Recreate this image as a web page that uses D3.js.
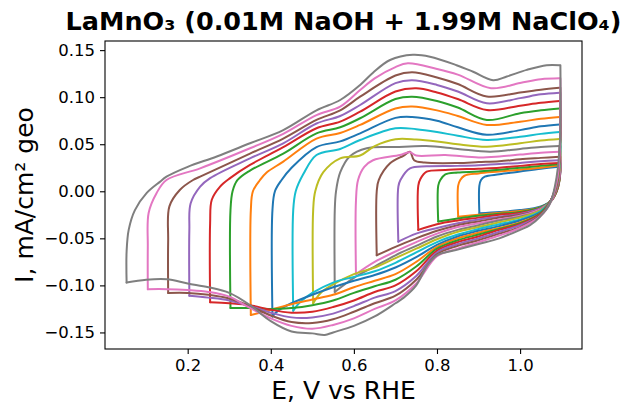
<!DOCTYPE html>
<html><head><meta charset="utf-8">
<script src="https://cdn.jsdelivr.net/npm/d3@7"></script>
<style>body{margin:0;background:#fff}svg{display:block}</style>
</head><body>
<svg id="chart" width="625" height="407"></svg>
<script>
// Lower vertex potentials (V vs RHE), in plotting order
const vertexE = [0.90,0.85,0.80,0.75,0.70,0.65,0.60,0.55,0.50,0.45,0.40,0.35,0.30,0.25,0.20,0.15,0.10,0.05];
const xTicks = [0.2,0.4,0.6,0.8,1.0];
const yTicks = [-0.15,-0.10,-0.05,0.00,0.05,0.10,0.15];
const titleText = "LaMnO₃ (0.01M NaOH + 1.99M NaClO₄)";
const xLabel = "E, V vs RHE";
const yLabel = "I, mA/cm² geo";

// Anodic (forward) branches: [E, I]
const up090 = [[0.902,-0.0234],[0.902,0.006],[0.906,0.012],[0.915,0.0155],[0.95,0.018],[1.0,0.021],[1.05,0.024],[1.095,0.026]];
const up085 = [[0.851,-0.027],[0.851,0.006],[0.856,0.012],[0.866,0.0165],[0.9,0.019],[0.95,0.021],[1.0,0.023],[1.05,0.025],[1.095,0.0276]];
const up080 = [[0.803,-0.032],[0.803,0.006],[0.808,0.012],[0.82,0.018],[0.85,0.020],[0.9,0.021],[0.95,0.023],[1.0,0.025],[1.05,0.027],[1.095,0.029]];
const up075 = [[0.755,-0.041],[0.755,0.006],[0.76,0.013],[0.775,0.0208],[0.82,0.0226],[0.9,0.024],[0.95,0.025],[1.0,0.027],[1.05,0.029],[1.095,0.030]];
const up070 = [[0.707,-0.0535],[0.707,0.005],[0.712,0.012],[0.735,0.0244],[0.775,0.0266],[0.85,0.027],[0.9,0.0276],[0.95,0.029],[1.0,0.030],[1.05,0.032],[1.095,0.033]];
const up065 = [[0.655,-0.068],[0.655,0.0],[0.66,0.012],[0.687,0.0297],[0.72,0.038],[0.735,0.042],[0.745,0.033],[0.77,0.0305],[0.85,0.030],[0.9,0.031],[0.95,0.032],[1.0,0.034],[1.05,0.0355],[1.095,0.0368]];
const up060 = [[0.605,-0.088],[0.605,-0.01],[0.61,0.012],[0.625,0.026],[0.646,0.033],[0.711,0.0386],[0.735,0.0415],[0.75,0.038],[0.82,0.0386],[0.9,0.036],[0.95,0.037],[1.0,0.039],[1.05,0.041],[1.095,0.042]];
const up055 = [[0.554,-0.107],[0.554,-0.02],[0.557,0.0],[0.567,0.02],[0.59,0.037],[0.631,0.0457],[0.7,0.047],[0.774,0.048],[0.85,0.045],[0.928,0.042],[1.0,0.045],[1.05,0.047],[1.095,0.048]];
const up050 = [[0.502,-0.119],[0.502,-0.02],[0.507,0.0],[0.526,0.02],[0.567,0.035],[0.615,0.038],[0.65,0.048],[0.7,0.0553],[0.75,0.055],[0.8,0.053],[0.85,0.050],[0.92,0.0474],[1.0,0.051],[1.05,0.054],[1.095,0.0556]];
const up045 = [[0.454,-0.127],[0.454,-0.02],[0.46,0.0],[0.478,0.018],[0.51,0.0386],[0.567,0.045],[0.615,0.0545],[0.7,0.067],[0.75,0.066],[0.8,0.063],[0.85,0.059],[0.92,0.0545],[1.0,0.058],[1.05,0.061],[1.095,0.063]];
const up040 = [[0.404,-0.133],[0.404,-0.02],[0.41,0.0],[0.426,0.012],[0.45,0.025],[0.51,0.047],[0.567,0.053],[0.615,0.0616],[0.7,0.078],[0.74,0.079],[0.8,0.075],[0.85,0.068],[0.92,0.060],[1.0,0.065],[1.05,0.069],[1.095,0.071]];
const up035 = [[0.352,-0.1315],[0.352,-0.02],[0.357,0.0],[0.374,0.012],[0.39,0.02],[0.43,0.0315],[0.51,0.056],[0.567,0.062],[0.615,0.0705],[0.7,0.088],[0.74,0.090],[0.8,0.086],[0.85,0.080],[0.92,0.0705],[1.0,0.074],[1.05,0.077],[1.095,0.079]];
const up030 = [[0.303,-0.124],[0.303,-0.02],[0.308,0.0],[0.32,0.012],[0.35,0.022],[0.43,0.040],[0.51,0.0616],[0.567,0.068],[0.615,0.0776],[0.7,0.098],[0.74,0.1005],[0.8,0.096],[0.85,0.089],[0.92,0.0758],[1.0,0.083],[1.05,0.086],[1.095,0.088]];
const up025 = [[0.254,-0.118],[0.254,-0.034],[0.258,-0.009],[0.278,0.005],[0.302,0.014],[0.35,0.028],[0.43,0.0468],[0.51,0.067],[0.567,0.074],[0.615,0.0846],[0.7,0.106],[0.75,0.1095],[0.8,0.105],[0.85,0.098],[0.92,0.0864],[1.0,0.091],[1.05,0.094],[1.095,0.096]];
const up020 = [[0.204,-0.111],[0.204,-0.041],[0.207,-0.013],[0.23,0.005],[0.254,0.014],[0.35,0.035],[0.43,0.051],[0.51,0.072],[0.567,0.080],[0.615,0.0917],[0.7,0.115],[0.74,0.118],[0.8,0.113],[0.85,0.106],[0.92,0.0935],[1.0,0.099],[1.05,0.103],[1.095,0.1047]];
const up015 = [[0.153,-0.108],[0.153,-0.052],[0.156,-0.016],[0.181,0.0014],[0.213,0.012],[0.23,0.0155],[0.35,0.040],[0.43,0.056],[0.51,0.0758],[0.567,0.086],[0.615,0.1005],[0.7,0.123],[0.74,0.1265],[0.8,0.121],[0.85,0.114],[0.92,0.1007],[1.0,0.105],[1.05,0.108],[1.095,0.110]];
const up010 = [[0.104,-0.104],[0.104,-0.059],[0.106,-0.023],[0.125,-0.002],[0.149,0.012],[0.23,0.0244],[0.35,0.0457],[0.43,0.061],[0.51,0.081],[0.567,0.09],[0.615,0.1076],[0.65,0.12],[0.7,0.132],[0.73,0.136],[0.8,0.130],[0.85,0.124],[0.93,0.1095],[1.0,0.115],[1.05,0.119],[1.095,0.120]];
const up005 = [[0.053,-0.097],[0.053,-0.064],[0.058,-0.041],[0.073,-0.020],[0.101,-0.002],[0.133,0.010],[0.149,0.0155],[0.2,0.026],[0.27,0.037],[0.35,0.051],[0.43,0.065],[0.51,0.086],[0.567,0.097],[0.615,0.113],[0.646,0.126],[0.687,0.1395],[0.742,0.145],[0.783,0.143],[0.847,0.134],[0.887,0.127],[0.935,0.118],[0.968,0.122],[1.016,0.129],[1.064,0.134],[1.095,0.134]];

// Cathodic (reverse) branches: [E, I]
const dn090 = [[1.097,0.026],[1.095,0.012],[1.088,0.0],[1.075,-0.010],[1.05,-0.016],[1.0,-0.020],[0.95,-0.022],[0.902,-0.0234]];
const dn085 = [[1.097,0.0276],[1.095,0.012],[1.088,0.0],[1.075,-0.010],[1.05,-0.017],[1.0,-0.021],[0.95,-0.023],[0.9,-0.025],[0.851,-0.027]];
const dn080 = [[1.097,0.029],[1.095,0.013],[1.088,0.0],[1.075,-0.010],[1.05,-0.017],[1.0,-0.022],[0.95,-0.024],[0.9,-0.026],[0.85,-0.029],[0.803,-0.032]];
const dn075 = [[1.097,0.030],[1.095,0.014],[1.088,0.001],[1.075,-0.010],[1.05,-0.018],[1.0,-0.023],[0.95,-0.025],[0.9,-0.028],[0.85,-0.031],[0.8,-0.035],[0.755,-0.041]];
const dn070 = [[1.097,0.033],[1.096,0.016],[1.088,0.002],[1.075,-0.010],[1.05,-0.018],[1.0,-0.024],[0.95,-0.027],[0.9,-0.030],[0.85,-0.034],[0.8,-0.039],[0.75,-0.045],[0.707,-0.0535]];
const dn065 = [[1.097,0.0368],[1.096,0.018],[1.088,0.003],[1.075,-0.010],[1.05,-0.019],[1.0,-0.025],[0.95,-0.028],[0.9,-0.032],[0.85,-0.036],[0.8,-0.042],[0.75,-0.050],[0.7,-0.059],[0.655,-0.068]];
const dn060 = [[1.097,0.042],[1.096,0.02],[1.088,0.004],[1.075,-0.010],[1.05,-0.019],[1.0,-0.026],[0.95,-0.030],[0.9,-0.034],[0.85,-0.038],[0.8,-0.045],[0.75,-0.054],[0.7,-0.064],[0.65,-0.075],[0.605,-0.088]];
const dn055 = [[1.097,0.048],[1.096,0.025],[1.089,0.006],[1.075,-0.009],[1.05,-0.020],[1.0,-0.027],[0.95,-0.031],[0.9,-0.036],[0.85,-0.041],[0.8,-0.048],[0.75,-0.058],[0.7,-0.068],[0.65,-0.080],[0.6,-0.092],[0.554,-0.107]];
const dn050 = [[1.097,0.0556],[1.096,0.03],[1.089,0.008],[1.075,-0.009],[1.05,-0.020],[1.0,-0.028],[0.95,-0.033],[0.9,-0.038],[0.85,-0.043],[0.8,-0.051],[0.75,-0.061],[0.7,-0.071],[0.65,-0.081],[0.6,-0.088],[0.55,-0.099],[0.52,-0.108],[0.502,-0.119]];
const dn045 = [[1.097,0.063],[1.096,0.035],[1.089,0.009],[1.075,-0.009],[1.05,-0.021],[1.0,-0.030],[0.95,-0.035],[0.9,-0.040],[0.85,-0.046],[0.8,-0.054],[0.75,-0.065],[0.7,-0.076],[0.65,-0.085],[0.6,-0.091],[0.55,-0.097],[0.5,-0.108],[0.47,-0.118],[0.454,-0.127]];
const dn040 = [[1.097,0.071],[1.096,0.04],[1.09,0.010],[1.075,-0.009],[1.05,-0.022],[1.0,-0.031],[0.95,-0.037],[0.9,-0.042],[0.85,-0.048],[0.8,-0.057],[0.75,-0.070],[0.7,-0.081],[0.65,-0.089],[0.6,-0.095],[0.55,-0.102],[0.5,-0.110],[0.45,-0.119],[0.42,-0.126],[0.404,-0.133]];
const dn035 = [[1.097,0.079],[1.096,0.045],[1.09,0.011],[1.075,-0.009],[1.05,-0.023],[1.0,-0.033],[0.95,-0.039],[0.9,-0.044],[0.85,-0.050],[0.8,-0.059],[0.75,-0.075],[0.7,-0.088],[0.65,-0.095],[0.6,-0.102],[0.55,-0.110],[0.5,-0.115],[0.45,-0.120],[0.4,-0.126],[0.352,-0.1315]];
const dn030 = [[1.097,0.088],[1.096,0.05],[1.09,0.012],[1.075,-0.009],[1.05,-0.023],[1.0,-0.034],[0.95,-0.040],[0.9,-0.046],[0.85,-0.052],[0.8,-0.061],[0.75,-0.080],[0.7,-0.094],[0.65,-0.101],[0.6,-0.108],[0.55,-0.116],[0.5,-0.121],[0.45,-0.124],[0.4,-0.125],[0.35,-0.124],[0.303,-0.124]];
const dn025 = [[1.097,0.096],[1.096,0.05],[1.09,0.013],[1.074,-0.010],[1.05,-0.024],[1.0,-0.035],[0.95,-0.041],[0.9,-0.048],[0.85,-0.054],[0.8,-0.063],[0.75,-0.085],[0.7,-0.100],[0.65,-0.107],[0.6,-0.116],[0.55,-0.123],[0.5,-0.128],[0.45,-0.129],[0.4,-0.126],[0.35,-0.121],[0.3,-0.119],[0.254,-0.118]];
const dn020 = [[1.097,0.1047],[1.096,0.05],[1.09,0.014],[1.074,-0.010],[1.05,-0.025],[1.0,-0.036],[0.95,-0.043],[0.9,-0.050],[0.85,-0.056],[0.8,-0.065],[0.75,-0.090],[0.7,-0.106],[0.65,-0.113],[0.6,-0.122],[0.55,-0.130],[0.5,-0.134],[0.45,-0.134],[0.4,-0.129],[0.35,-0.122],[0.3,-0.116],[0.25,-0.113],[0.204,-0.111]];
const dn015 = [[1.097,0.110],[1.096,0.05],[1.09,0.015],[1.073,-0.011],[1.05,-0.025],[1.0,-0.038],[0.95,-0.045],[0.9,-0.052],[0.85,-0.058],[0.8,-0.067],[0.75,-0.094],[0.7,-0.111],[0.65,-0.119],[0.6,-0.128],[0.55,-0.136],[0.5,-0.140],[0.45,-0.139],[0.4,-0.132],[0.35,-0.122],[0.3,-0.114],[0.25,-0.110],[0.2,-0.108],[0.153,-0.108]];
const dn010 = [[1.097,0.120],[1.096,0.05],[1.09,0.015],[1.073,-0.012],[1.05,-0.026],[1.0,-0.039],[0.95,-0.047],[0.9,-0.054],[0.85,-0.061],[0.8,-0.069],[0.75,-0.098],[0.7,-0.116],[0.65,-0.125],[0.6,-0.135],[0.55,-0.142],[0.5,-0.146],[0.45,-0.143],[0.4,-0.135],[0.35,-0.124],[0.3,-0.112],[0.25,-0.107],[0.2,-0.105],[0.15,-0.104],[0.104,-0.104]];
const dn005 = [[1.097,0.134],[1.096,0.055],[1.088,0.0155],[1.072,-0.013],[1.048,-0.027],[1.024,-0.036],[1.0,-0.041],[0.95,-0.050],[0.9,-0.056],[0.85,-0.062],[0.8,-0.068],[0.775,-0.080],[0.75,-0.100],[0.72,-0.113],[0.7,-0.119],[0.65,-0.133],[0.6,-0.143],[0.55,-0.150],[0.53,-0.1527],[0.5,-0.151],[0.45,-0.149],[0.4,-0.138],[0.35,-0.121],[0.3,-0.108],[0.25,-0.102],[0.2,-0.098],[0.15,-0.0935],[0.1,-0.094],[0.053,-0.097]];

const anodic = [up090,up085,up080,up075,up070,up065,up060,up055,up050,up045,up040,up035,up030,up025,up020,up015,up010,up005];
const cathodic = [dn090,dn085,dn080,dn075,dn070,dn065,dn060,dn055,dn050,dn045,dn040,dn035,dn030,dn025,dn020,dn015,dn010,dn005];
const palette = ["#1f77b4","#ff7f0e","#2ca02c","#d62728","#9467bd","#8c564b","#e377c2","#7f7f7f","#bcbd22","#17becf"];

const svg = d3.select("#chart");
const L = 105, R = 582, T = 41, B = 349;
const x = d3.scaleLinear().domain([0.001, 1.149]).range([L, R]);
const y = d3.scaleLinear().domain([-0.1676, 0.1597]).range([B, T]);

const g = svg.append("g");
const line = d3.line().x(d => x(d[0])).y(d => y(d[1])).curve(d3.curveCatmullRom.alpha(0.5));

vertexE.forEach((v, i) => {
  const col = palette[i % 10];
  const grp = g.append("g");
  grp.append("path").attr("d", line(cathodic[i])).attr("fill","none").attr("stroke",col).attr("stroke-width",2).attr("stroke-linejoin","round").attr("stroke-linecap","round");
  grp.append("path").attr("d", line(anodic[i])).attr("fill","none").attr("stroke",col).attr("stroke-width",2).attr("stroke-linejoin","round").attr("stroke-linecap","round");
});

// frame
svg.append("rect").attr("x",L).attr("y",T).attr("width",R-L).attr("height",B-T).attr("fill","none").attr("stroke","#000").attr("stroke-width",1.1);

const font = "DejaVu Sans, sans-serif";
const xAxis = d3.axisBottom(x).tickValues(xTicks).tickFormat(d3.format(".1f")).tickSize(5).tickPadding(5);
const yAxis = d3.axisLeft(y).tickValues(yTicks).tickFormat(d3.format(".2f")).tickSize(5).tickPadding(5);
const gx = svg.append("g").attr("transform",`translate(0,${B})`).call(xAxis);
const gy = svg.append("g").attr("transform",`translate(${L},0)`).call(yAxis);
[gx, gy].forEach(a => {
  a.select(".domain").remove();
  a.selectAll(".tick line").attr("stroke","#000").attr("stroke-width",1.1);
  a.selectAll("text").attr("fill","#000").style("font-family",font).style("font-size","16.5px");
});

svg.append("text").attr("x",(L+R)/2).attr("y",30).attr("text-anchor","middle")
  .style("font-family",font).style("font-size","25.5px").style("font-weight","bold").text(titleText);
svg.append("text").attr("x",(L+R)/2).attr("y",399).attr("text-anchor","middle")
  .style("font-family",font).style("font-size","25px").text(xLabel);
svg.append("text").attr("transform",`translate(33,${(T+B)/2}) rotate(-90)`).attr("text-anchor","middle")
  .style("font-family",font).style("font-size","25px").text(yLabel);
</script>
</body></html>
